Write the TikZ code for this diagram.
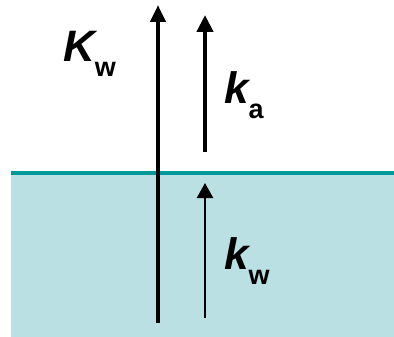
\documentclass[tikz,border=0pt]{standalone}
\usepackage{fontspec}
\setmainfont{Liberation Sans}
\usetikzlibrary{arrows.meta}
\definecolor{cWater}{RGB}{186,224,227}
\definecolor{cSurface}{RGB}{0,153,153}
\newcommand{\coef}[2]{{\fontsize{44}{48}\selectfont\bfseries\itshape #1}\raisebox{-15pt}{\fontsize{27}{30}\selectfont\bfseries #2}}

\begin{document}
\begin{tikzpicture}[
  x=1pt, y=-1pt,
  lbl/.style={inner sep=0pt, anchor=base west, text=black},
  flux/.style={-{Triangle[length=17pt, width=15pt]}, line width=4.5pt, draw=black},
  thinflux/.style={-{Triangle[length=15pt, width=16pt]}, line width=2.3pt, draw=black},
]
\useasboundingbox (0,0) rectangle (394,337);
% water body and surface
\fill[cWater] (11,173) rectangle (394,337);
\draw[cSurface, line width=4.5pt] (11,173) -- (394,173);
% end points of the transfer arrows
\coordinate (tot0) at (158,323);
\coordinate (tot1) at (158,5);
\coordinate (air0) at (205,152);
\coordinate (air1) at (205,15);
\coordinate (wat0) at (205,318);
\coordinate (wat1) at (205,183);
\draw[flux] (tot0) -- (tot1);
\draw[flux, line width=4.3pt, -{Triangle[length=17pt, width=16pt]}] (air0) -- (air1);
\draw[thinflux] (wat0) -- (wat1);
% labels
\node[lbl] (Kw) at (63,62) {\coef{K}{w}};
\node[lbl] (ka) at (224,103) {\coef{k}{a}};
\node[lbl] (kw) at (224,269) {\coef{k}{w}};
\end{tikzpicture}
\end{document}
